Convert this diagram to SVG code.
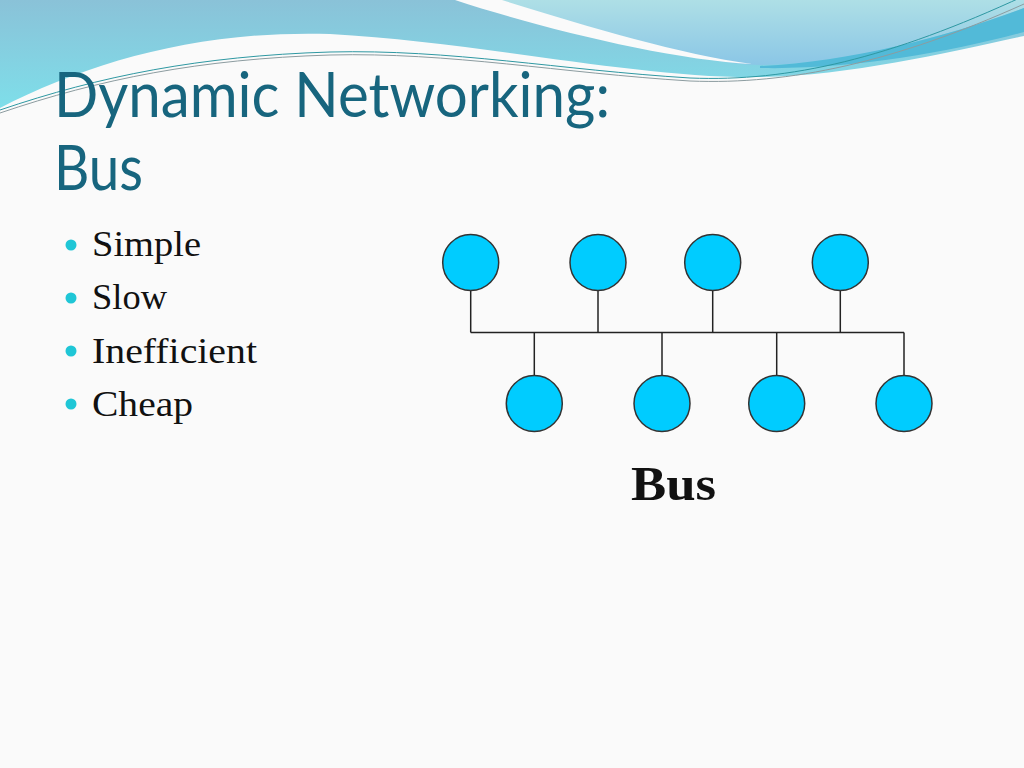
<svg xmlns="http://www.w3.org/2000/svg" width="1024" height="768" viewBox="0 0 1024 768">
  <defs>
    <linearGradient id="gBand" x1="0" y1="0" x2="0" y2="110" gradientUnits="userSpaceOnUse">
      <stop offset="0" stop-color="#8AC2D8"/>
      <stop offset="1" stop-color="#7EDFEA"/>
    </linearGradient>
    <linearGradient id="gLight" x1="0" y1="0" x2="0" y2="66" gradientUnits="userSpaceOnUse">
      <stop offset="0" stop-color="#AEDFE6"/>
      <stop offset="1" stop-color="#8AC6E6"/>
    </linearGradient>
    <style>
      .title { font-family: "Lato", "Open Sans", sans-serif; font-size: 61px; fill: #17657E; }
      .bullet { font-family: "Liberation Serif", serif; font-size: 36px; fill: #111111; }
      .dot { fill: #1FC6D6; }
      .node { fill: #00CCFF; stroke: #333333; stroke-width: 1.5; }
      .wire { stroke: #222222; stroke-width: 1.5; fill: none; }
      .label { font-family: "Liberation Serif", serif; font-weight: bold; font-size: 48px; fill: #111111; }
    </style>
  </defs>

  <rect width="1024" height="768" fill="#FAFAFA"/>

  <!-- top decoration -->
  <g id="decoration">
    <path d="M0,0 H1024 V36 C950,52 850,76 760,77 C640,79 480,42 330,34 C200,30 90,62 0,108 Z" fill="url(#gBand)"/>
    <path d="M490,0 H1024 V8 C950,35 850,64 760,65 C690,63 590,30 490,0 Z" fill="url(#gLight)"/>
    <path d="M760,66 C850,62 950,36 1024,8 V32 C950,52 850,70 760,68 Z" fill="#52BAD8"/>
    <path d="M455,0 L502,0 C585,26 680,54 752,64 C670,60 540,28 455,0 Z" fill="#FAFAFA"/>
    <path d="M0,110 C100,76 200,56 330,52 C450,49 560,70 690,78 C790,82 890,58 1024,-4" fill="none" stroke="#2E98A2" stroke-width="1"/>
    <path d="M0,113 C100,79 200,59 330,55 C450,52 560,73 690,81 C790,85 895,62 1024,4" fill="none" stroke="#8C9CA0" stroke-width="1"/>
  </g>

  <!-- title -->
  <g id="title">
    <text class="title" x="54" y="117" textLength="556" lengthAdjust="spacingAndGlyphs">Dynamic Networking:</text>
    <text class="title" x="54" y="190" textLength="89" lengthAdjust="spacingAndGlyphs">Bus</text>
  </g>

  <!-- bullets -->
  <g id="bullets">
    <circle class="dot" cx="71" cy="245" r="5.5"/>
    <text class="bullet" x="92" y="256" textLength="109" lengthAdjust="spacingAndGlyphs">Simple</text>
    <circle class="dot" cx="71" cy="298" r="5.5"/>
    <text class="bullet" x="92" y="309" textLength="75" lengthAdjust="spacingAndGlyphs">Slow</text>
    <circle class="dot" cx="71" cy="351" r="5.5"/>
    <text class="bullet" x="92" y="363" textLength="165" lengthAdjust="spacingAndGlyphs">Inefficient</text>
    <circle class="dot" cx="71" cy="404" r="5.5"/>
    <text class="bullet" x="92" y="416" textLength="101" lengthAdjust="spacingAndGlyphs">Cheap</text>
  </g>

  <!-- connectors -->
  <g id="connectors">
    <line class="wire" x1="470.7" y1="332.5" x2="904" y2="332.5"/>
    <line class="wire" x1="470.7" y1="290" x2="470.7" y2="332.5"/>
    <line class="wire" x1="598" y1="290" x2="598" y2="332.5"/>
    <line class="wire" x1="712.7" y1="290" x2="712.7" y2="332.5"/>
    <line class="wire" x1="840.3" y1="290" x2="840.3" y2="332.5"/>
    <line class="wire" x1="534.3" y1="332.5" x2="534.3" y2="376"/>
    <line class="wire" x1="662" y1="332.5" x2="662" y2="376"/>
    <line class="wire" x1="776.7" y1="332.5" x2="776.7" y2="376"/>
    <line class="wire" x1="904" y1="332.5" x2="904" y2="376"/>
  </g>

  <!-- nodes -->
  <g id="node-t1"><circle class="node" cx="470.7" cy="262.5" r="28"/></g>
  <g id="node-t2"><circle class="node" cx="598" cy="262.5" r="28"/></g>
  <g id="node-t3"><circle class="node" cx="712.7" cy="262.5" r="28"/></g>
  <g id="node-t4"><circle class="node" cx="840.3" cy="262.5" r="28"/></g>
  <g id="node-b1"><circle class="node" cx="534.3" cy="403.5" r="28"/></g>
  <g id="node-b2"><circle class="node" cx="662" cy="403.5" r="28"/></g>
  <g id="node-b3"><circle class="node" cx="776.7" cy="403.5" r="28"/></g>
  <g id="node-b4"><circle class="node" cx="904" cy="403.5" r="28"/></g>

  <g id="bus-label">
    <text class="label" x="631" y="500" textLength="85" lengthAdjust="spacingAndGlyphs">Bus</text>
  </g>
</svg>
